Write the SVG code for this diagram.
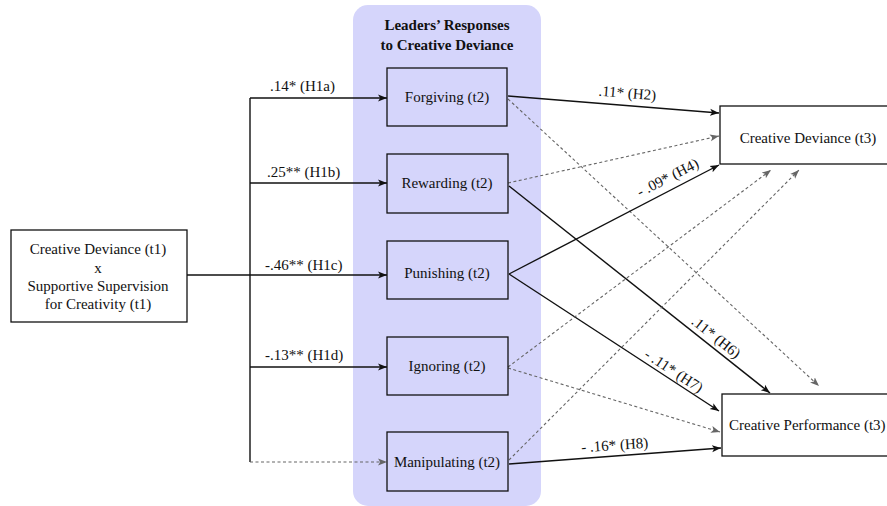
<svg xmlns="http://www.w3.org/2000/svg" width="887" height="506" viewBox="0 0 887 506" font-family="'Liberation Serif', 'Times New Roman', Times, 'DejaVu Serif', serif">
<style>
text{font-family:'Liberation Serif','Times New Roman',Times,'DejaVu Serif',serif;font-size:15px;fill:#111}
.t{font-weight:bold}
.box{fill:none;stroke:#111;stroke-width:1.3}
.wbox{fill:#fff;stroke:#111;stroke-width:1.3}
.s{fill:none;stroke:#111;stroke-width:1.4}
.d{fill:none;stroke:#666;stroke-width:1.1;stroke-dasharray:3 2.5}
</style>
<defs>
<marker id="ah" markerWidth="10" markerHeight="8" refX="9" refY="4" orient="auto" markerUnits="userSpaceOnUse">
<path d="M0,0.5 L9,4 L0,7.5 L2.2,4 z" fill="#111"/>
</marker>
<marker id="ag" markerWidth="10" markerHeight="8" refX="9" refY="4" orient="auto" markerUnits="userSpaceOnUse">
<path d="M0,0.5 L9,4 L0,7.5 L2.2,4 z" fill="#666"/>
</marker>
</defs>
<rect x="353" y="5" width="188" height="501" rx="15" fill="#d5d5fb"/>
<g id="title"><text class="t" x="447" y="30" text-anchor="middle">Leaders’ Responses</text><text class="t" x="447" y="50" text-anchor="middle">to Creative Deviance</text></g>
<g id="connectors">
<polyline class="s" points="187,275 250,275"/>
<polyline class="s" points="250,98 250,462"/>
<line class="s" x1="250" y1="98" x2="387" y2="98" marker-end="url(#ah)"/>
<line class="s" x1="250" y1="183" x2="387" y2="183" marker-end="url(#ah)"/>
<line class="s" x1="250" y1="275" x2="387" y2="275" marker-end="url(#ah)"/>
<line class="s" x1="250" y1="367" x2="387" y2="367" marker-end="url(#ah)"/>
<line class="d" x1="250" y1="462" x2="387" y2="462" marker-end="url(#ag)"/>
<line class="s" x1="508" y1="96" x2="719" y2="113" marker-end="url(#ah)"/>
<line class="d" x1="508" y1="99" x2="819" y2="386" marker-end="url(#ag)"/>
<line class="d" x1="508" y1="183" x2="719" y2="136" marker-end="url(#ag)"/>
<line class="s" x1="509" y1="186" x2="770" y2="393" marker-end="url(#ah)"/>
<line class="s" x1="509" y1="274" x2="719" y2="165" marker-end="url(#ah)"/>
<line class="s" x1="509" y1="274" x2="719" y2="411" marker-end="url(#ah)"/>
<line class="d" x1="508" y1="367" x2="771" y2="170" marker-end="url(#ag)"/>
<line class="d" x1="508" y1="368" x2="720" y2="432" marker-end="url(#ag)"/>
<line class="d" x1="509" y1="460" x2="799" y2="170" marker-end="url(#ag)"/>
<line class="s" x1="509" y1="464" x2="721" y2="448" marker-end="url(#ah)"/>
<text x="270" y="91">.14* (H1a)</text>
<text x="267" y="177">.25** (H1b)</text>
<text x="265" y="270">-.46** (H1c)</text>
<text x="265" y="360">-.13** (H1d)</text>
<text text-anchor="middle" transform="translate(627,98) rotate(4.6)">.11* (H2)</text>
<text text-anchor="middle" transform="translate(670,182) rotate(-27)">- .09* (H4)</text>
<text text-anchor="middle" transform="translate(713,341) rotate(38.6)">.11* (H6)</text>
<text text-anchor="middle" transform="translate(671,375) rotate(33.2)">- .11* (H7)</text>
<text text-anchor="middle" transform="translate(615,450) rotate(-3.8)">- .16* (H8)</text>
</g>
<g id="interaction"><rect class="wbox" x="11" y="230" width="176" height="92"/>
<text x="98" y="254" text-anchor="middle">Creative Deviance (t1)</text>
<text x="98" y="273" text-anchor="middle">x</text>
<text x="98" y="291" text-anchor="middle">Supportive Supervision</text>
<text x="98" y="309" text-anchor="middle">for Creativity (t1)</text></g>
<g id="forgiving"><rect class="box" x="387" y="68" width="120" height="58"/><text x="447" y="102" text-anchor="middle">Forgiving (t2)</text></g>
<g id="rewarding"><rect class="box" x="387" y="154" width="121" height="59"/><text x="447" y="188" text-anchor="middle">Rewarding (t2)</text></g>
<g id="punishing"><rect class="box" x="387" y="241" width="121" height="58"/><text x="447" y="278" text-anchor="middle">Punishing (t2)</text></g>
<g id="ignoring"><rect class="box" x="387" y="337" width="121" height="58"/><text x="447" y="371" text-anchor="middle">Ignoring (t2)</text></g>
<g id="manipulating"><rect class="box" x="387" y="432" width="121" height="59"/><text x="447" y="467" text-anchor="middle">Manipulating (t2)</text></g>
<g id="cd3"><rect class="box" x="720" y="106" width="180" height="58"/><text x="808" y="143" text-anchor="middle">Creative Deviance (t3)</text></g>
<g id="cp3"><rect class="box" x="722" y="394" width="180" height="62"/><text x="729" y="430">Creative Performance (t3)</text></g>
</svg>
